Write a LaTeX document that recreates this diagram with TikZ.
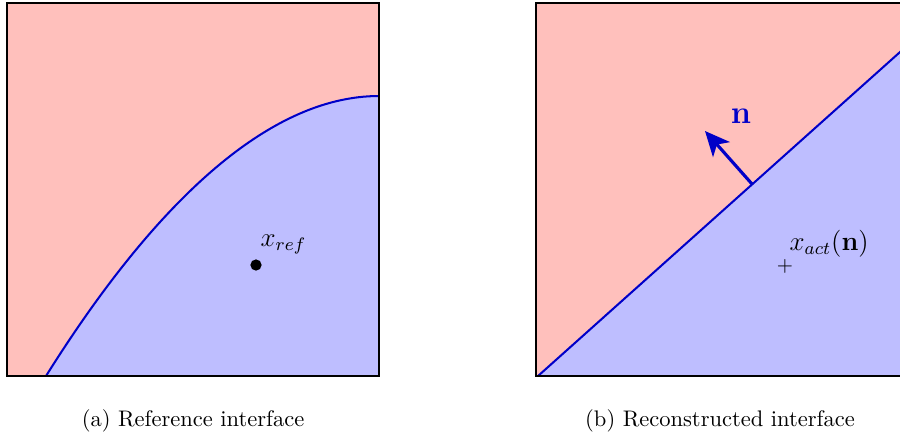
\documentclass[tikz,border=0pt]{standalone}
\usetikzlibrary{arrows.meta}
\definecolor{pinkfill}{RGB}{255,192,188}
\definecolor{bluefill}{RGB}{190,190,255}
\definecolor{ifaceblue}{RGB}{0,0,200}
\begin{document}
\begin{tikzpicture}[x=0.444pt,y=-0.444pt,
  frame/.style={draw=black,line width=0.9pt},
  iface/.style={draw=ifaceblue,line width=0.9pt},
  lbl/.style={inner sep=1pt,font=\fontsize{12}{14}\selectfont},
  captext/.style={inner sep=0pt,font=\normalsize}]
\clip (0,0) rectangle (900,438);
\fill[white] (0,0) rectangle (900,438);
% ---------- left panel ----------
\fill[pinkfill] (7,3) rectangle (379,376);
\fill[bluefill] (46,376) .. controls (150,210) and (265,96) .. (379,96) -- (379,376) -- cycle;
\draw[iface] (46,376) .. controls (150,210) and (265,96) .. (379,96);
\draw[frame] (7,3) rectangle (379,376);
\node[circle,fill=black,inner sep=0pt,minimum size=5pt] (xref) at (256,265) {};
\node[lbl,anchor=base west] (xreflbl) at (258,246) {$x_{ref}$};
\node[captext] (capa) at (193,421) {(a) Reference interface};
% ---------- right panel ----------
\fill[pinkfill] (536,3) rectangle (909,376);
\fill[bluefill] (538,376) -- (909,44) -- (909,376) -- cycle;
\coordinate (lstart) at (538,376);
\coordinate (lend) at (909,44);
\draw[iface] (lstart) -- (lend);
\draw[frame] (536,3) rectangle (909,376);
\coordinate (nbase) at (752,184);
\coordinate (ntip) at (705,131);
\draw[draw=ifaceblue,line width=1.4pt,-{Stealth[length=11pt,width=10pt,inset=3pt]}] (nbase) -- (ntip);
\node[lbl,text=ifaceblue,font=\fontsize{13.5}{16}\selectfont] (nlbl) at (741,116) {$\mathbf{n}$};
\node[inner sep=0pt,font=\small] (xact) at (785,266) {$+$};
\node[lbl,anchor=base west] (xactlbl) at (787,250) {$x_{act}(\mathbf{n})$};
\node[captext] (capb) at (720,421) {(b) Reconstructed interface};
\end{tikzpicture}
\end{document}
